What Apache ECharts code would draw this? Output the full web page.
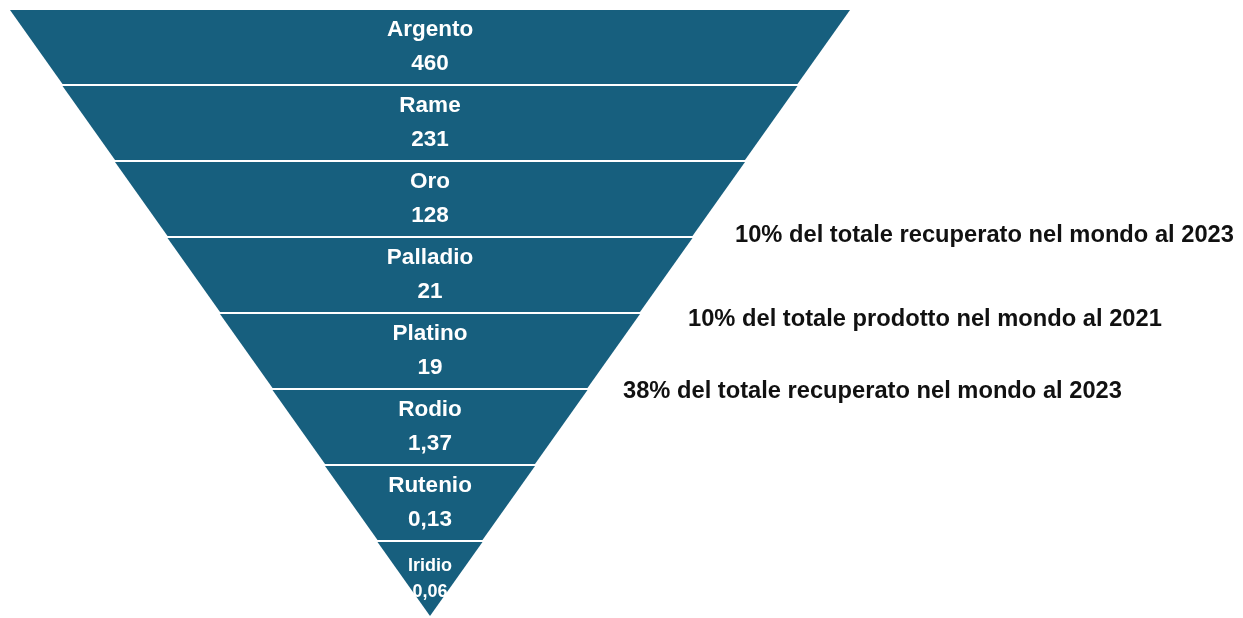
<!DOCTYPE html>
<html>
<head>
<meta charset="utf-8">
<script src="https://cdn.jsdelivr.net/npm/echarts@6/dist/echarts.min.js"></script>
<style>
html, body { margin: 0; padding: 0; background: #ffffff; }
#chart { width: 1243px; height: 618px; }
</style>
</head>
<body>
<div id="chart"></div>
<script>
// Categories (top to bottom) and their values
var categories = ['Argento', 'Rame', 'Oro', 'Palladio', 'Platino', 'Rodio', 'Rutenio', 'Iridio'];
var values = [460, 231, 128, 21, 19, 1.37, 0.13, 0.06];
// Side notes
var notes = [
  '10% del totale recuperato nel mondo al 2023',
  '10% del totale prodotto nel mondo al 2021',
  '38% del totale recuperato nel mondo al 2023'
];

var FONT = '"Liberation Sans", Arial, sans-serif';
var BLUE = '#175f7e';

function fmt(v) { return String(v).replace('.', ','); }

// The funnel is drawn as an even inverted triangle: each band's width follows its rank
var n = categories.length;
var funnelData = categories.map(function (c, i) {
  var item = { name: c, value: n - i };
  if (i === n - 1) {
    item.label = {
      rich: {
        nm: { fontSize: 18, fontWeight: 'bold', color: '#fff', fontFamily: FONT, lineHeight: 26 },
        vl: { fontSize: 18, fontWeight: 'bold', color: '#fff', fontFamily: FONT, lineHeight: 26 }
      }
    };
  }
  return item;
});

var noteLayout = [
  { left: 735, top: 223 },
  { left: 688, top: 307 },
  { left: 623, top: 379 }
];

var chart = echarts.init(document.getElementById('chart'));
chart.setOption({
  backgroundColor: '#ffffff',
  animation: false,
  series: [{
    type: 'funnel',
    left: 10,
    top: 10,
    width: 840,
    height: 606,
    min: 0,
    max: n,
    minSize: '0%',
    maxSize: '100%',
    sort: 'none',
    gap: 2,
    funnelAlign: 'center',
    itemStyle: { color: BLUE, borderWidth: 0 },
    emphasis: { disabled: true },
    label: {
      show: true,
      position: 'inside',
      formatter: function (p) {
        return '{nm|' + p.name + '}\n{vl|' + fmt(values[p.dataIndex]) + '}';
      },
      rich: {
        nm: { fontSize: 22.5, fontWeight: 'bold', color: '#fff', fontFamily: FONT, lineHeight: 34 },
        vl: { fontSize: 22.5, fontWeight: 'bold', color: '#fff', fontFamily: FONT, lineHeight: 34 }
      }
    },
    labelLine: { show: false },
    data: funnelData
  }],
  graphic: notes.map(function (t, i) {
    return {
      type: 'text',
      left: noteLayout[i].left,
      top: noteLayout[i].top,
      style: {
        text: t,
        fill: '#111',
        font: 'bold 23.7px ' + FONT
      }
    };
  })
});
</script>
</body>
</html>
